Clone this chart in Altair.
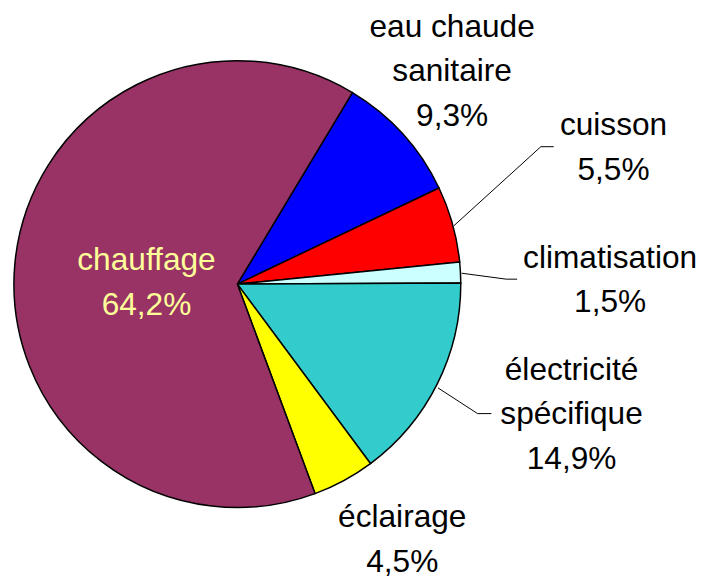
import math
import altair as alt
import pandas as pd

# ---- data ----
categories = ["eau chaude sanitaire", "cuisson", "climatisation",
              "électricité spécifique", "éclairage", "chauffage"]
shares = [9.3, 5.5, 1.5, 14.9, 4.5, 64.2]
label_names = ["eau chaude\nsanitaire", "cuisson", "climatisation",
               "électricité\nspécifique", "éclairage", "chauffage"]

# ---- styles / layout ----
colors = ["#0000FF", "#FF0000", "#CCFFFF", "#33CCCC", "#FFFF00", "#993366"]
start_deg = 31.0
cx, cy, R = 232, 276, 226
# polar position (from the pie centre) of each label's first line
label_radius = [339, 413, 378, 349, 289, 95]
label_nudge_deg = [-7.9, -7.3, -1.1, -12.2, -6.8, 9.3]

pie = pd.DataFrame({"cat": categories, "share": shares, "order": list(range(len(categories)))})

# label angles from the data (mid-angle of each slice) plus a small nudge
total = sum(shares)
rows = []
cum = 0.0
for name, s, r, nd, cat in zip(label_names, shares, label_radius, label_nudge_deg, categories):
    mid = start_deg + (cum + s / 2) / total * 360.0
    cum += s
    pct = f"{s:.1f}".replace(".", ",") + "%"
    rows.append({"cat": cat, "label": name + "\n" + pct,
                 "ang": math.radians(mid + nd), "r": r,
                 "light": cat == "chauffage"})
labels = pd.DataFrame(rows)

# leader lines (layout annotations, pixel space)
leaders = pd.DataFrame([
    {"g": "cuisson", "i": 0, "x": 451, "y": 217},
    {"g": "cuisson", "i": 1, "x": 539, "y": 137},
    {"g": "cuisson", "i": 2, "x": 552, "y": 137},
    {"g": "clim", "i": 0, "x": 459, "y": 265},
    {"g": "clim", "i": 1, "x": 504, "y": 271},
    {"g": "clim", "i": 2, "x": 515, "y": 271},
    {"g": "elec", "i": 0, "x": 435, "y": 381},
    {"g": "elec", "i": 1, "x": 475, "y": 407},
    {"g": "elec", "i": 2, "x": 489, "y": 407},
])

start = math.radians(start_deg)
arcs = alt.Chart(pie).mark_arc(radius=R, stroke="black", strokeWidth=1.5).encode(
    theta=alt.Theta("share:Q", stack=True, scale=alt.Scale(range=[start, start + 2 * math.pi])),
    color=alt.Color("cat:N", scale=alt.Scale(domain=categories, range=colors), legend=None),
    order=alt.Order("order:Q"),
    x=alt.value(cx),
    y=alt.value(cy),
)

def text_layer(light, color):
    return alt.Chart(labels).transform_filter(
        alt.datum.light if light else ~alt.datum.light
    ).mark_text(
        font="Liberation Sans", fontSize=32, lineBreak="\n", lineHeight=45,
        align="center", baseline="middle", color=color,
    ).encode(
        theta=alt.Theta("ang:Q", scale=None, stack=False),
        radius=alt.Radius("r:Q", scale=None),
        text="label:N",
        x=alt.value(cx),
        y=alt.value(cy),
    )

lines = alt.Chart(leaders).mark_line(color="black", strokeWidth=1).encode(
    x=alt.X("x:Q", scale=None),
    y=alt.Y("y:Q", scale=None),
    detail="g:N",
    order="i:Q",
)

chart = alt.layer(arcs, lines, text_layer(False, "black"), text_layer(True, "#FFFF99")).resolve_scale(
    theta="independent", radius="independent"
).properties(
    width=700, height=570, padding=0, autosize=alt.AutoSizeParams(type="none"),
    background="white",
).configure_view(stroke=None)

chart.save("out.html", embed_options={"renderer": "svg", "actions": False})
